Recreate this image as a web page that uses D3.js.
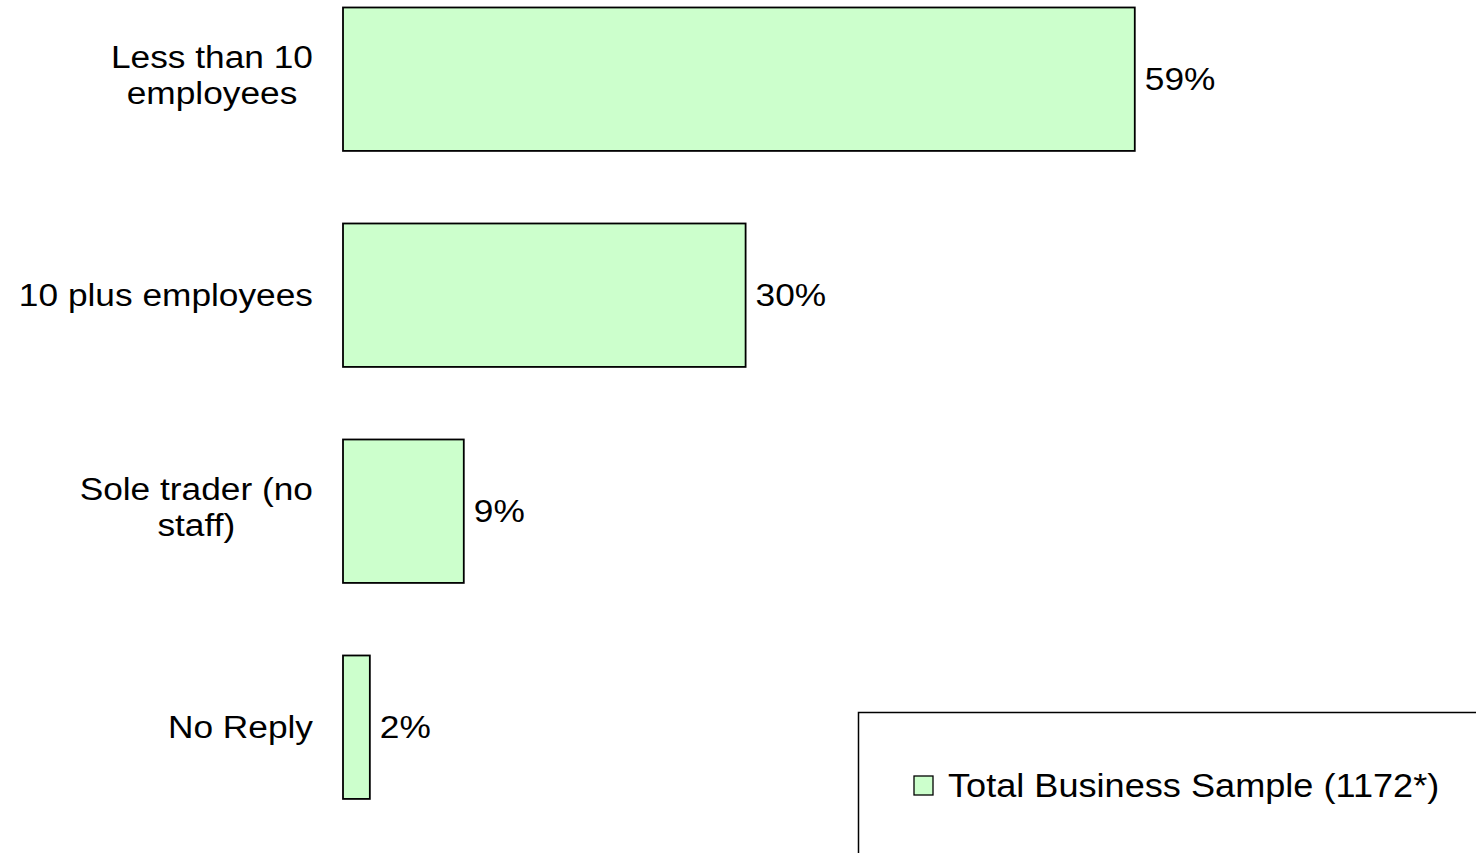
<!DOCTYPE html>
<meta charset="utf-8">
<head>
    <script src="https://cdnjs.cloudflare.com/ajax/libs/d3/7.8.5/d3.min.js"></script>
    <style>
    body { margin: 0; background: #fff; }
    svg text { font-family: "Liberation Sans", Arial, sans-serif; fill: #000; }
    .bar { fill: #ccffcc; stroke: #000; stroke-width: 1.8; }
    </style>
</head>
<body>
    <script>
    // chart data
    var categories = ["Less than 10 employees", "10 plus employees", "Sole trader (no staff)", "No Reply"];
    // how each category label wraps onto lines
    var labelLines = [["Less than 10", "employees"], ["10 plus employees"], ["Sole trader (no", "staff)"], ["No Reply"]];
    var values = [59, 30, 9, 2];
    var seriesName = "Total Business Sample (1172*)";

    var width = 1476, height = 853;
    var stretch = 1.12;   // text in the original is a bit wider than tall
    var labelRight = 313;

    var svg = d3.select("body").append("svg")
        .attr("width", width)
        .attr("height", height);

    // set the ranges
    var x = d3.scaleLinear()
        .domain([0, 100])
        .range([343, 343 + 1342]);
    var y = d3.scaleBand()
        .domain(categories)
        .range([-28.8, 835.2])
        .paddingInner(0.336)
        .paddingOuter(0.168);

    var data = categories.map(function(c, i) { return { cat: c, value: values[i], lines: labelLines[i] }; });

    // bars
    svg.selectAll(".bar")
        .data(data)
        .enter().append("rect")
        .attr("class", "bar")
        .attr("x", x(0))
        .attr("y", function(d) { return y(d.cat); })
        .attr("width", function(d) { return x(d.value) - x(0); })
        .attr("height", y.bandwidth());

    // value labels
    svg.selectAll(".val")
        .data(data)
        .enter().append("text")
        .attr("class", "val")
        .style("font-size", "31.5px")
        .attr("transform", function(d) {
            return "translate(" + (x(d.value) + 10) + "," + (y(d.cat) + y.bandwidth() / 2 + 11) + ") scale(" + stretch + ",1)";
        })
        .text(function(d) { return d.value + "%"; });

    // category labels: block is right aligned, lines centred inside it
    data.forEach(function(d) {
        var cy = y(d.cat) + y.bandwidth() / 2;
        var first = d.lines.length === 1 ? cy + 11 : cy - 11;
        var texts = d.lines.map(function(line, j) {
            return svg.append("text")
                .style("font-size", "31.5px")
                .style("text-anchor", "middle")
                .text(line);
        });
        var maxW = d3.max(texts, function(t) { return t.node().getComputedTextLength(); }) * stretch;
        var cx = labelRight - maxW / 2;
        texts.forEach(function(t, j) {
            t.attr("transform", "translate(" + cx + "," + (first + j * 36) + ") scale(" + stretch + ",1)");
        });
    });

    // legend box, runs off the right and bottom edge
    var legend = svg.append("g");
    legend.append("rect")
        .attr("x", 858.5)
        .attr("y", 712.5)
        .attr("width", 700)
        .attr("height", 200)
        .style("fill", "#fff")
        .style("stroke", "#000")
        .style("stroke-width", 1.5);
    legend.append("rect")
        .attr("class", "bar")
        .attr("x", 914)
        .attr("y", 776)
        .attr("width", 19)
        .attr("height", 19)
        .style("stroke-width", 1.3);
    legend.append("text")
        .style("font-size", "33px")
        .attr("transform", "translate(948,797) scale(1.095,1)")
        .text(seriesName);
    </script>
</body>
</html>
